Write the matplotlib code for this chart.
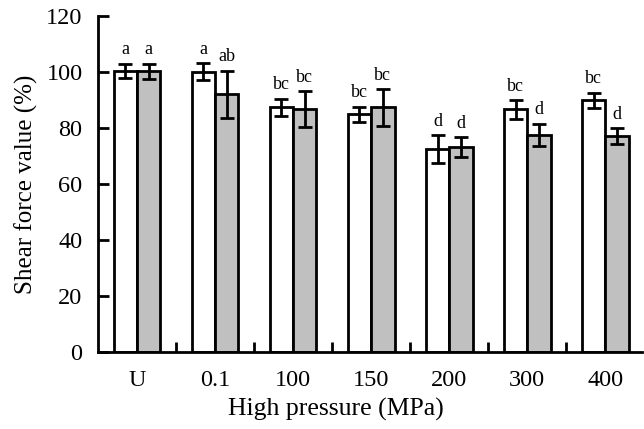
import matplotlib
matplotlib.use("Agg")
import matplotlib.pyplot as plt
import numpy as np

plt.rcParams['font.family'] = ['Liberation Serif', 'DejaVu Serif']

# pressure groups
categories = ["U", "0.1", "100", "150", "200", "300", "400"]

# shear force (%), white and grey series
white_vals = [100.3, 100.1, 87.4, 84.8, 72.3, 86.6, 89.8]
white_err = [2.6, 2.9, 3.0, 2.8, 5.0, 3.3, 2.7]
grey_vals = [100.2, 92.0, 86.6, 87.3, 73.1, 77.5, 77.1]
grey_err = [2.6, 8.4, 6.4, 6.5, 3.5, 3.9, 2.8]

# significance letters
white_letters = ["a", "a", "bc", "bc", "d", "bc", "bc"]
grey_letters = ["a", "ab", "bc", "bc", "d", "d", "d"]

fig = plt.figure(figsize=(6.44, 4.29), dpi=100)
ax = fig.add_axes([0.152, 0.18, 0.845, 0.783])

x = np.arange(len(categories))
w = 0.3

err_kw = dict(ecolor="black", elinewidth=2, capsize=5, capthick=2)
b1 = ax.bar(x - w / 2, white_vals, w, color="white", edgecolor="black",
            linewidth=2, yerr=white_err, error_kw=err_kw, zorder=2)
b2 = ax.bar(x + w / 2, grey_vals, w, color="#c0c0c0", edgecolor="black",
            linewidth=2, yerr=grey_err, error_kw=err_kw, zorder=2)

# letters above the error bars
for i in range(len(categories)):
    ax.annotate(white_letters[i], (x[i] - w / 2, white_vals[i] + white_err[i]),
                xytext=(0, 4), textcoords="offset points",
                ha="center", va="bottom", fontsize=13)
    ax.annotate(grey_letters[i], (x[i] + w / 2, grey_vals[i] + grey_err[i]),
                xytext=(0, 4), textcoords="offset points",
                ha="center", va="bottom", fontsize=13)

ax.set_xlim(-0.5, 6.47)
ax.set_ylim(0, 120)
ax.set_yticks(np.arange(0, 121, 20))

# group ticks on boundaries, labels at centres
ax.set_xticks(np.arange(0.5, len(categories) - 1, 1))
ax.set_xticklabels([])
ax.set_xticks(x, minor=True)
ax.set_xticklabels(categories, minor=True)
ax.tick_params(axis="x", which="major", direction="in", length=7, width=2)
ax.tick_params(axis="x", which="minor", length=0, pad=13, labelsize=17.5)
ax.tick_params(axis="y", direction="in", length=8, width=2, pad=11, labelsize=17.5)

for s in ["top", "right"]:
    ax.spines[s].set_visible(False)
for s in ["left", "bottom"]:
    ax.spines[s].set_linewidth(2)

ax.set_xlabel("High pressure (MPa)", fontsize=18.5, labelpad=5, x=0.437)
ax.set_ylabel("Shear force value (%)", fontsize=18, labelpad=6)

plt.savefig("out.png", dpi=100)
